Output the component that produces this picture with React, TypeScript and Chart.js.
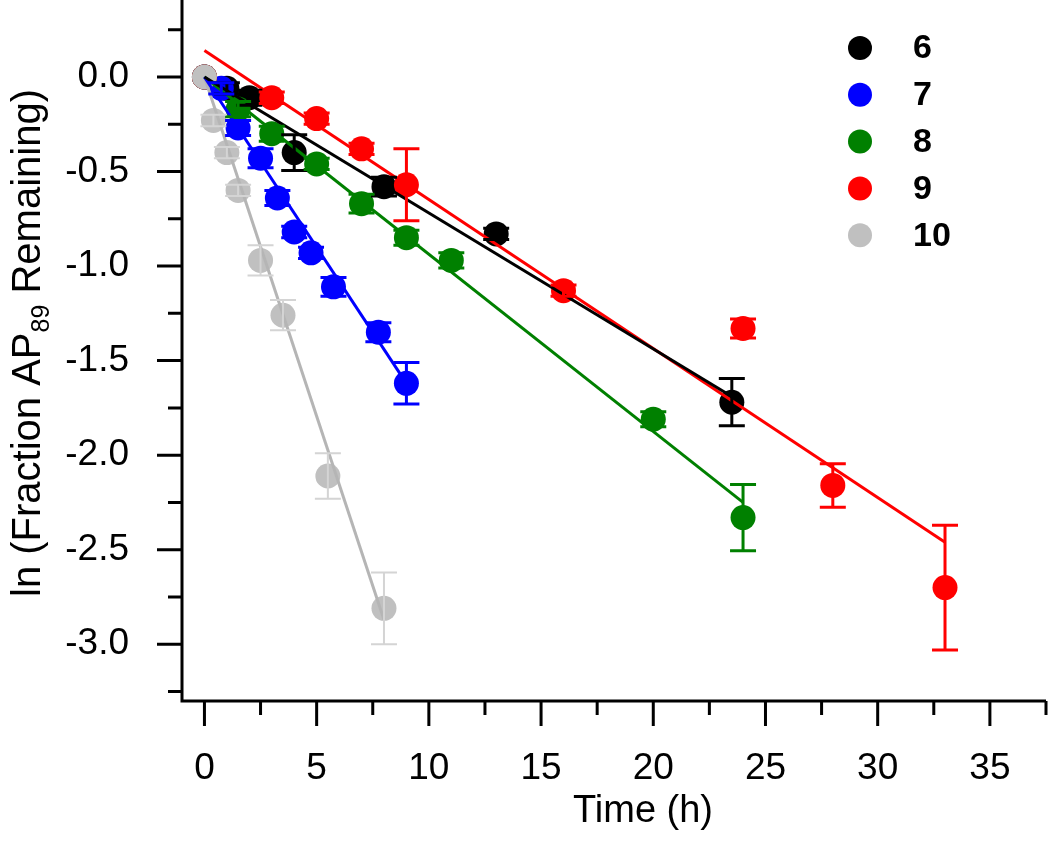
import React, { useEffect, useRef } from 'react';
import { Chart, registerables } from 'chart.js';

Chart.register(...registerables);

// ---- data ----
const SERIES_LABELS = ['6', '7', '8', '9', '10'];
const SERIES_COLORS = ['#000000', '#0000ff', '#008000', '#ff0000', '#c0c0c0'];
const ERROR_COLORS = ['#000000', '#0000ff', '#008000', '#ff0000', '#d4d4d4'];

const T6 = [0, 1, 2, 4, 8, 13, 23.5];
const Y6 = [0, -0.06, -0.11, -0.4, -0.58, -0.83, -1.72];
const E6 = [0, 0.03, 0.04, 0.095, 0.05, 0.03, 0.125];

const T7 = [0, 0.75, 1.5, 2.5, 3.25, 4, 4.75, 5.75, 7.75, 9];
const Y7 = [0, -0.06, -0.27, -0.43, -0.64, -0.82, -0.93, -1.11, -1.35, -1.62];
const E7 = [0, 0.03, 0.04, 0.05, 0.04, 0.03, 0.03, 0.05, 0.05, 0.11];

const T8 = [0, 1.5, 3, 5, 7, 9, 11, 20, 24];
const Y8 = [0, -0.17, -0.3, -0.46, -0.67, -0.85, -0.97, -1.81, -2.33];
const E8 = [0, 0.04, 0.04, 0.03, 0.05, 0.04, 0.04, 0.04, 0.175];

const T9 = [0, 3, 5, 7, 9, 16, 24, 28, 33];
const Y9 = [0, -0.11, -0.22, -0.38, -0.57, -1.13, -1.33, -2.16, -2.7];
const E9 = [0, 0.03, 0.03, 0.03, 0.19, 0.03, 0.05, 0.115, 0.33];

const T10 = [0, 0.4, 1, 1.5, 2.5, 3.5, 5.5, 8];
const Y10 = [0, -0.23, -0.4, -0.6, -0.97, -1.26, -2.11, -2.81];
const E10 = [0, 0.03, 0.03, 0.03, 0.08, 0.08, 0.12, 0.19];

// linear fits: [start, end] in time and ln value
const FIT_T = [
  [0, 23.5],
  [0, 9],
  [0, 24],
  [0, 33],
  [0, 8],
];
const FIT_Y = [
  [0, -1.69],
  [0, -1.62],
  [0, -2.25],
  [0.14, -2.46],
  [0, -2.87],
];

const X_TICKS = [0, 2.5, 5, 7.5, 10, 12.5, 15, 17.5, 20, 22.5, 25, 27.5, 30, 32.5, 35, 37.5];
const X_LABELS = ['0', '', '5', '', '10', '', '15', '', '20', '', '25', '', '30', '', '35', ''];
const Y_TICKS = [-3.25, -3, -2.75, -2.5, -2.25, -2, -1.75, -1.5, -1.25, -1, -0.75, -0.5, -0.25, 0, 0.25];
const Y_LABELS = ['', '-3.0', '', '-2.5', '', '-2.0', '', '-1.5', '', '-1.0', '', '-0.5', '', '0.0', ''];

const X_TITLE = 'Time (h)';
const Y_TITLE_PARTS = ['ln (Fraction AP', '89', ' Remaining)'];

const FONT = "'Liberation Sans', Arial, sans-serif";

const TIMES = [T6, T7, T8, T9, T10];
const VALUES = [Y6, Y7, Y8, Y9, Y10];
const ERRORS = [E6, E7, E8, E9, E10];

const isMajor = (v: number, step: number) => Math.abs(v / step - Math.round(v / step)) < 1e-6;

const axesPlugin = {
  id: 'customAxes',
  afterDraw(chart: any) {
    const { ctx, chartArea } = chart;
    const xs = chart.scales.x;
    const ys = chart.scales.y;
    ctx.save();
    ctx.strokeStyle = '#000';
    ctx.lineWidth = 3;
    ctx.lineCap = 'butt';
    // spines
    ctx.beginPath();
    ctx.moveTo(chartArea.left, chartArea.top);
    ctx.lineTo(chartArea.left, chartArea.bottom);
    ctx.lineTo(chartArea.right, chartArea.bottom);
    ctx.stroke();
    // ticks
    ctx.beginPath();
    Y_TICKS.forEach((v) => {
      const y = ys.getPixelForValue(v);
      const len = isMajor(v, 0.5) ? 25 : 14;
      ctx.moveTo(chartArea.left - len, y);
      ctx.lineTo(chartArea.left, y);
    });
    X_TICKS.forEach((v) => {
      const x = xs.getPixelForValue(v);
      const len = isMajor(v, 5) ? 25 : 14;
      ctx.moveTo(x, chartArea.bottom);
      ctx.lineTo(x, chartArea.bottom + len);
    });
    ctx.stroke();

    // axis titles
    ctx.fillStyle = '#000';
    ctx.font = `38px ${FONT}`;
    ctx.textAlign = 'center';
    ctx.textBaseline = 'middle';
    ctx.fillText(X_TITLE, 643, 812);

    // y title with subscript, rotated
    ctx.translate(26, 343);
    ctx.rotate(-Math.PI / 2);
    const big = `40px ${FONT}`;
    const small = `25px ${FONT}`;
    ctx.font = big;
    const w0 = ctx.measureText(Y_TITLE_PARTS[0]).width;
    const w2 = ctx.measureText(Y_TITLE_PARTS[2]).width;
    ctx.font = small;
    const w1 = ctx.measureText(Y_TITLE_PARTS[1]).width;
    const total = w0 + w1 + w2;
    let x = -total / 2;
    ctx.textAlign = 'left';
    ctx.textBaseline = 'alphabetic';
    ctx.font = big;
    ctx.fillText(Y_TITLE_PARTS[0], x, 14);
    x += w0;
    ctx.font = small;
    ctx.fillText(Y_TITLE_PARTS[1], x, 23);
    x += w1;
    ctx.font = big;
    ctx.fillText(Y_TITLE_PARTS[2], x, 14);
    ctx.restore();
  },
};

const errorBarPlugin = {
  id: 'errorBars',
  afterDatasetsDraw(chart: any) {
    const { ctx } = chart;
    const xs = chart.scales.x;
    const ys = chart.scales.y;
    ctx.save();
    chart.data.datasets.forEach((ds: any) => {
      if (ds.errIndex === undefined) return;
      const k = ds.errIndex;
      ctx.strokeStyle = ERROR_COLORS[k];
      ctx.lineWidth = k === 4 ? 2 : 3;
      ctx.beginPath();
      TIMES[k].forEach((t, i) => {
        if (!ERRORS[k][i]) return;
        const x = xs.getPixelForValue(t);
        const yTop = ys.getPixelForValue(VALUES[k][i] + ERRORS[k][i]);
        const yBot = ys.getPixelForValue(VALUES[k][i] - ERRORS[k][i]);
        ctx.moveTo(x, yTop);
        ctx.lineTo(x, yBot);
        ctx.moveTo(x - 13, yTop);
        ctx.lineTo(x + 13, yTop);
        ctx.moveTo(x - 13, yBot);
        ctx.lineTo(x + 13, yBot);
      });
      ctx.stroke();
    });
    ctx.restore();
  },
};

const legendPlugin = {
  id: 'cornerLegend',
  afterDraw(chart: any) {
    const { ctx } = chart;
    ctx.save();
    ctx.font = `bold 34px ${FONT}`;
    ctx.textAlign = 'left';
    ctx.textBaseline = 'middle';
    SERIES_LABELS.forEach((label, i) => {
      const y = 48 + i * 46.8;
      ctx.fillStyle = SERIES_COLORS[i];
      ctx.beginPath();
      ctx.arc(860, y, 12, 0, Math.PI * 2);
      ctx.fill();
      ctx.fillStyle = '#000';
      ctx.fillText(label, 913, y + 1);
    });
    ctx.restore();
  },
};

export default function App() {
  const ref = useRef<HTMLCanvasElement>(null);

  useEffect(() => {
    const scatterSets = SERIES_LABELS.map((label, k) => ({
      type: 'scatter' as const,
      label,
      errIndex: k,
      data: TIMES[k].map((t, i) => ({ x: t, y: VALUES[k][i] })),
      backgroundColor: SERIES_COLORS[k],
      borderColor: SERIES_COLORS[k],
      borderWidth: 0,
      pointRadius: 12.5,
      pointHoverRadius: 12.5,
      showLine: false,
      order: 6 - k,
    }));
    const fitSets = SERIES_LABELS.map((label, k) => ({
      type: 'line' as const,
      label: `fit ${label}`,
      data: FIT_T[k].map((t, i) => ({ x: t, y: FIT_Y[k][i] })),
      borderColor: k === 4 ? '#b5b5b5' : SERIES_COLORS[k],
      borderWidth: 3,
      pointRadius: 0,
      fill: false,
      tension: 0,
      order: 0,
    }));

    const chart = new Chart(ref.current as HTMLCanvasElement, {
      type: 'scatter',
      data: { datasets: [...scatterSets, ...fitSets] as any },
      options: {
        responsive: false,
        animation: false,
        devicePixelRatio: 1,
        layout: { autoPadding: false, padding: { left: 0, right: 4, top: 0, bottom: 0 } },
        plugins: {
          legend: { display: false },
          tooltip: { enabled: false },
        },
        scales: {
          x: {
            type: 'linear',
            min: -1,
            max: 37.5,
            afterBuildTicks: (s: any) => {
              s.ticks = X_TICKS.map((v) => ({ value: v }));
            },
            afterFit: (s: any) => {
              s.height = 140;
              s.paddingLeft = 0;
              s.paddingRight = 0;
              s.paddingTop = 0;
              s.paddingBottom = 0;
            },
            grid: { display: false },
            border: { display: false },
            ticks: {
              autoSkip: false,
              maxRotation: 0,
              minRotation: 0,
              padding: 38,
              color: '#000',
              font: { family: FONT, size: 37 },
              callback: (v: any) => {
                const i = X_TICKS.findIndex((t) => Math.abs(t - v) < 1e-6);
                const l = i >= 0 ? X_LABELS[i] : '';
                return l === '' ? null : l;
              },
            },
          },
          y: {
            type: 'linear',
            min: -3.3,
            max: 0.407,
            afterBuildTicks: (s: any) => {
              s.ticks = Y_TICKS.map((v) => ({ value: v }));
            },
            afterFit: (s: any) => {
              s.width = 182;
              s.paddingTop = 0;
              s.paddingBottom = 0;
              s.paddingLeft = 0;
              s.paddingRight = 0;
            },
            grid: { display: false },
            border: { display: false },
            ticks: {
              autoSkip: false,
              padding: 45,
              color: '#000',
              font: { family: FONT, size: 37 },
              callback: (v: any) => {
                const i = Y_TICKS.findIndex((t) => Math.abs(t - v) < 1e-6);
                const l = i >= 0 ? Y_LABELS[i] : '';
                return l === '' ? null : l;
              },
            },
          },
        },
      },
      plugins: [errorBarPlugin, axesPlugin, legendPlugin],
    });
    return () => chart.destroy();
  }, []);

  return (
    <div style={{ position: 'fixed', left: 0, top: 0, width: 1050, height: 841, background: '#fff' }}>
      <canvas ref={ref} width={1050} height={841} style={{ width: 1050, height: 841, display: 'block' }} />
    </div>
  );
}
